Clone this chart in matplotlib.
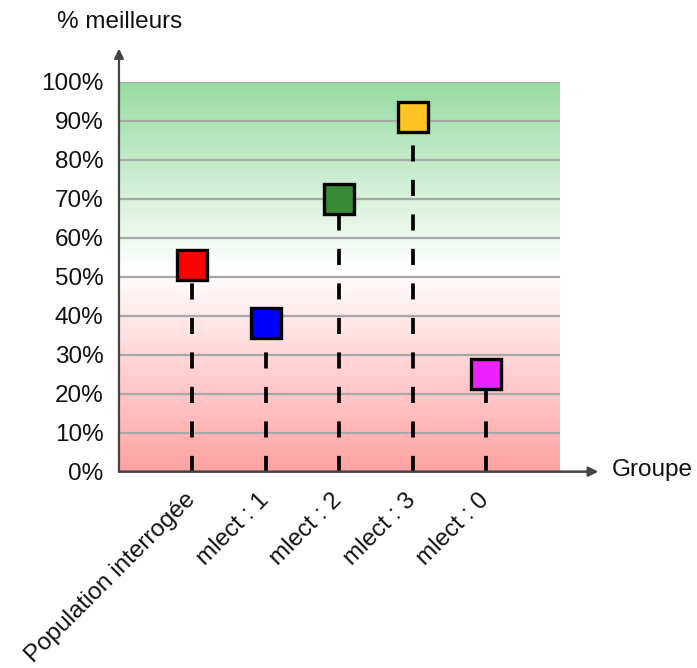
import numpy as np
import matplotlib
matplotlib.use("Agg")
import matplotlib.pyplot as plt
from matplotlib.colors import LinearSegmentedColormap
from matplotlib.ticker import FixedLocator

plt.rcParams['font.family'] = ['Liberation Sans', 'DejaVu Sans']

# Data
groups = ["Population interrogée", "mlect : 1", "mlect : 2", "mlect : 3", "mlect : 0"]
values = [53, 38, 70, 91, 25]
colors = ["#ff0000", "#0000ff", "#3a8a35", "#ffc322", "#ee22ff"]
y_ticks = [0, 10, 20, 30, 40, 50, 60, 70, 80, 90, 100]
y_tick_labels = [f"{t}%" for t in y_ticks]

FS = 17.5

fig = plt.figure(figsize=(6.97, 6.68), dpi=100)
ax = fig.add_axes([0.1707, 0.2939, 0.6327, 0.5838])

x = np.arange(1, len(groups) + 1)
ax.set_xlim(0, len(groups) + 1)
ax.set_ylim(0, 100)

# Background gradient: red at the bottom, white in the middle, green at the top
cmap = LinearSegmentedColormap.from_list(
    "band", [(0.0, "#ffa2a2"), (0.52, "#ffffff"), (1.0, "#98dca2")])
grad = np.linspace(0, 1, 256).reshape(-1, 1)
ax.imshow(grad, cmap=cmap, aspect="auto", origin="lower",
          extent=[0, len(groups) + 1, 0, 100], zorder=0)

# Horizontal grid lines
for t in y_ticks[1:]:
    ax.axhline(t, color="#a8a8a8", lw=1.6, zorder=1)

# Dashed drop lines and square markers
for xi, v, c in zip(x, values, colors):
    ax.plot([xi, xi], [0, v], color="black", lw=2.7,
            dashes=[4.3, 4.9], solid_capstyle="butt", zorder=2)
    ax.plot([xi], [v], marker="s", ms=21, mfc=c, mec="black", mew=2.4,
            linestyle="none", zorder=3)

for s in ax.spines.values():
    s.set_visible(False)

# Axis arrows
ax.annotate("", xy=(0, 1.085), xycoords="axes fraction",
            xytext=(0, 0), textcoords="axes fraction",
            arrowprops=dict(arrowstyle="-|>", color="#444444", lw=1.6,
                            mutation_scale=14, shrinkA=0, shrinkB=0),
            annotation_clip=False, zorder=5)
ax.annotate("", xy=(1.087, 0), xycoords="axes fraction",
            xytext=(0, 0), textcoords="axes fraction",
            arrowprops=dict(arrowstyle="-|>", color="#444444", lw=1.8,
                            mutation_scale=14, shrinkA=0, shrinkB=0),
            annotation_clip=False, zorder=5)

ax.yaxis.set_major_locator(FixedLocator(y_ticks))
ax.set_yticklabels(y_tick_labels, fontsize=FS, color="#111111")
ax.tick_params(axis="y", length=0, pad=11)

ax.set_xticks(x)
ax.set_xticklabels([])
ax.tick_params(axis="x", length=0)
for xi, g in zip(x, groups):
    ax.annotate(g, xy=(xi, 0), xycoords="data", xytext=(-0.5, -18),
                textcoords="offset points", rotation=45,
                rotation_mode="anchor", ha="right", va="center",
                fontsize=FS, color="#111111", annotation_clip=False)

fig.text(120 / 697, 1 - 22 / 668, "% meilleurs", ha="center", va="center",
         fontsize=FS, color="#111111")
fig.text(612 / 697, 1 - 470 / 668, "Groupe", ha="left", va="center",
         fontsize=FS, color="#111111")

fig.savefig("out.png", dpi=100, facecolor="white")
